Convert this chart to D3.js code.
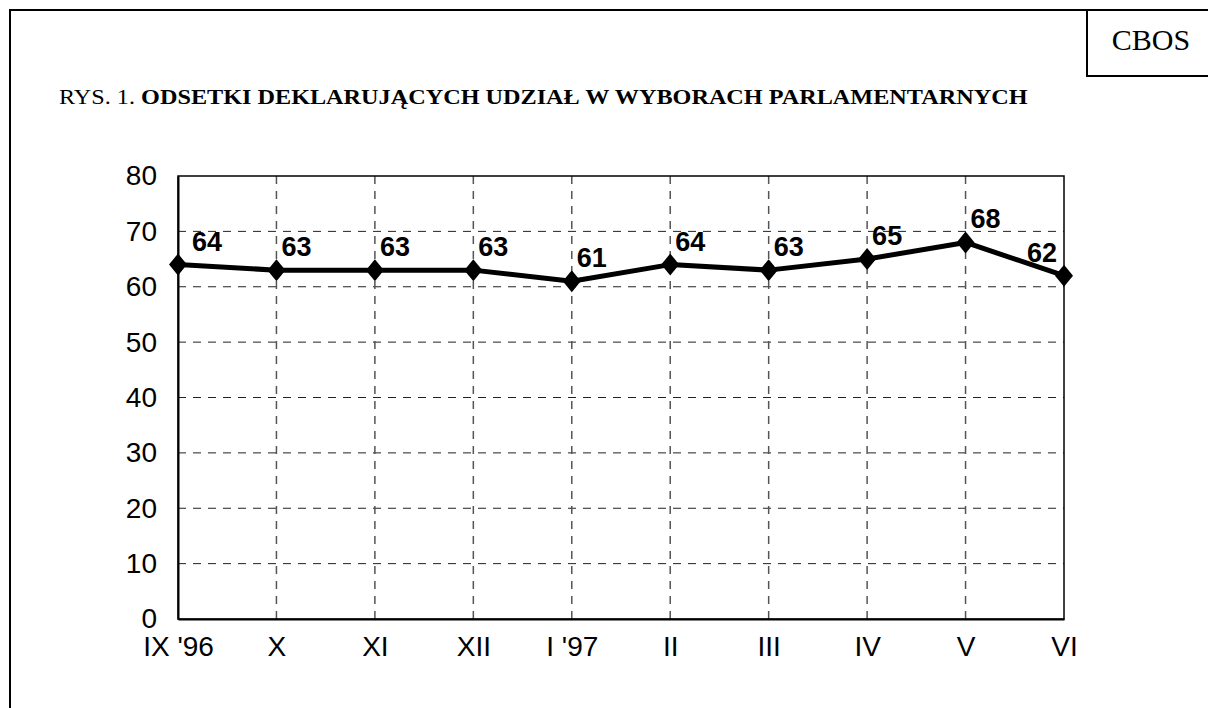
<!DOCTYPE html>
<html>
<head>
<meta charset="utf-8">
<script src="https://cdn.jsdelivr.net/npm/d3@7"></script>
<style>
body { margin: 0; background: #fff; }
svg { display: block; }
</style>
</head>
<body>
<svg width="1208" height="708"></svg>
<script>
// dane z rysunku
var months = ["IX '96", "X", "XI", "XII", "I '97", "II", "III", "IV", "V", "VI"];
var values = [64, 63, 63, 63, 61, 64, 63, 65, 68, 62];
var yTicks = [0, 10, 20, 30, 40, 50, 60, 70, 80];

var svg = d3.select("svg"),
	margin = {top: 176, right: 144, bottom: 89, left: 178},
	width = +svg.attr("width") - margin.left - margin.right,
	height = +svg.attr("height") - margin.top - margin.bottom;

// ramka strony
svg.append("path")
	.attr("d", "M10,708V10H1208")
	.attr("fill", "none")
	.attr("stroke", "#000")
	.attr("stroke-width", 2);
svg.append("path")
	.attr("d", "M1087,10V76H1208")
	.attr("fill", "none")
	.attr("stroke", "#000")
	.attr("stroke-width", 2);
svg.append("text")
	.attr("x", 1151)
	.attr("y", 50)
	.attr("text-anchor", "middle")
	.attr("font-family", "Liberation Serif, Times New Roman, serif")
	.attr("font-size", 30)
	.text("CBOS");

var title = svg.append("text")
	.attr("transform", "translate(59,104) scale(1.154,1)")
	.attr("font-family", "Liberation Serif, Times New Roman, serif")
	.attr("font-size", 21);
title.append("tspan").text("RYS.  1. ");
title.append("tspan").attr("font-weight", "bold").text("ODSETKI DEKLARUJĄCYCH UDZIAŁ W WYBORACH PARLAMENTARNYCH");

var g = svg.append("g").attr("transform", "translate(" + margin.left + "," + margin.top + ")");

var x = d3.scalePoint()
	.domain(months)
	.range([0, width]);
var y = d3.scaleLinear()
	.domain([0, 80])
	.range([height, 0]);

// siatka
g.append("g")
	.selectAll("line")
	.data(yTicks.slice(1, -1))
	.enter().append("line")
	.attr("x1", 0)
	.attr("x2", width)
	.attr("y1", function(d) { return y(d); })
	.attr("y2", function(d) { return y(d); })
	.attr("stroke", "#222")
	.attr("stroke-width", 1)
	.attr("stroke-dasharray", "8,7");
g.append("g")
	.selectAll("line")
	.data(months.slice(1, -1))
	.enter().append("line")
	.attr("x1", function(d) { return x(d); })
	.attr("x2", function(d) { return x(d); })
	.attr("y1", 0)
	.attr("y2", height)
	.attr("stroke", "#555")
	.attr("stroke-width", 1.5)
	.attr("stroke-dasharray", "8,7");

g.append("rect")
	.attr("width", width)
	.attr("height", height)
	.attr("fill", "none")
	.attr("stroke", "#000")
	.attr("stroke-width", 1.5);

var yAxis = g.append("g")
	.call(d3.axisLeft(y).tickValues(yTicks).tickSize(0).tickPadding(21));
yAxis.select(".domain").attr("stroke-width", 2);
yAxis.selectAll("text")
	.attr("font-family", "Liberation Sans, Arial, sans-serif")
	.attr("font-size", 28)
	.attr("fill", "#000");

var xAxis = g.append("g")
	.attr("transform", "translate(0," + height + ")")
	.call(d3.axisBottom(x).tickSize(0).tickPadding(17));
xAxis.select(".domain").attr("stroke-width", 2);
xAxis.selectAll("text")
	.attr("font-family", "Liberation Sans, Arial, sans-serif")
	.attr("font-size", 28)
	.attr("fill", "#000");

var line = d3.line()
	.x(function(d, i) { return x(months[i]); })
	.y(function(d) { return y(d); });

g.append("path")
	.datum(values)
	.attr("fill", "none")
	.attr("stroke", "#000")
	.attr("stroke-width", 5)
	.attr("stroke-linejoin", "round")
	.attr("d", line);

g.selectAll(".pt")
	.data(values)
	.enter().append("path")
	.attr("class", "pt")
	.attr("transform", function(d, i) { return "translate(" + x(months[i]) + "," + y(d) + ")"; })
	.attr("d", "M0,-11L9,0L0,11L-9,0Z")
	.attr("fill", "#000");

g.selectAll(".lbl")
	.data(values)
	.enter().append("text")
	.attr("class", "lbl")
	.attr("x", function(d, i) {
		if (i == 0) return x(months[i]) + 14;
		if (i == values.length - 1) return x(months[i]) - 7;
		return x(months[i]) + 5;
	})
	.attr("y", function(d) { return y(d) - 14; })
	.attr("text-anchor", function(d, i) { return i == values.length - 1 ? "end" : "start"; })
	.attr("font-family", "Liberation Sans, Arial, sans-serif")
	.attr("font-size", 27)
	.attr("font-weight", "bold")
	.text(function(d) { return d; });
</script>
</body>
</html>
